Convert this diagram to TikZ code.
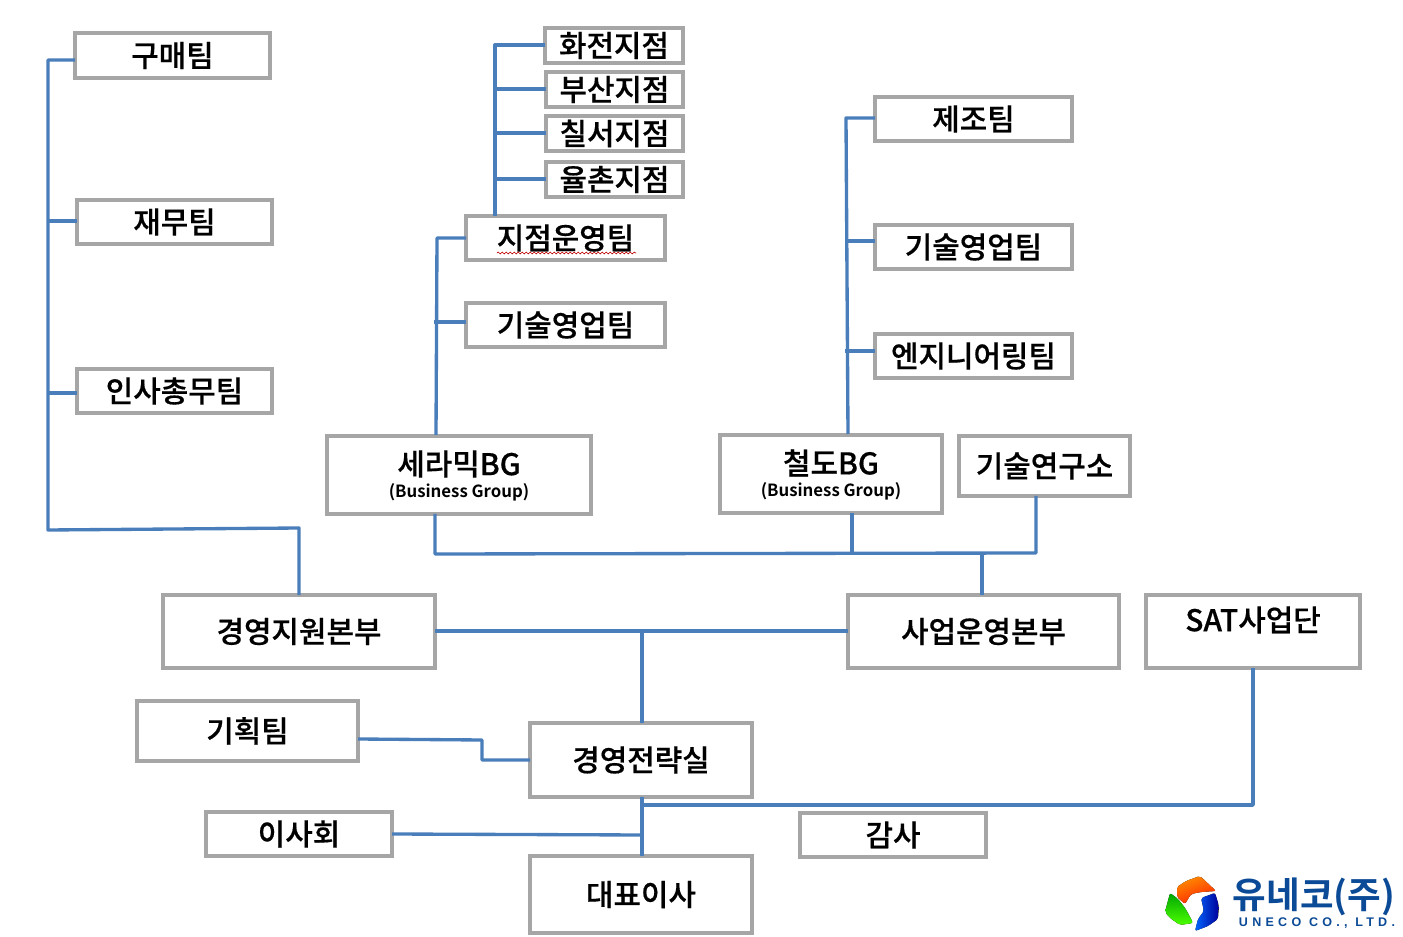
\documentclass[tikz,border=0pt]{standalone}
\usepackage{fontspec}
\setmainfont{Noto Sans CJK KR Medium}[BoldFont={Noto Sans CJK KR Bold},FakeBold=0.5,BoldFeatures={FakeBold=0}]
\newfontfamily\logolatin{Liberation Sans}[LetterSpace=34]
\usetikzlibrary{decorations.pathmorphing,calc}
\definecolor{linkblue}{HTML}{4A7EBB}
\definecolor{boxgray}{HTML}{A6A6A6}
\definecolor{logonavy}{HTML}{0B4A96}
\tikzset{
  boxn/.style={draw=boxgray,line width=2.8pt,fill=white,inner sep=0pt,outer sep=0pt,align=center,font=\fontsize{22.4}{26}\selectfont,text=black},
  linkn/.style={draw=linkblue,line width=2.5pt,line join=round},
}
\newcommand{\bx}[6]{\node[boxn,minimum width={(#4-#2-2)*0.75pt},minimum height={(#5-#3-2)*0.75pt}] (#1) at ({(#2+#4)/2},{(#3+#5)/2}) {#6};}
\begin{document}
\begin{tikzpicture}[x=0.75pt,y=-0.75pt]
\useasboundingbox (0,0) rectangle (1403,937);
\fill[white] (0,0) rectangle (1403,937);
\bx{gumae}{74}{32}{271}{79}{구매팀}
\bx{jaemu}{76}{199}{273}{245}{재무팀}
\bx{insa}{76}{368}{273}{414}{인사총무팀}
\bx{hwajeon}{544}{27}{684}{64}{화전지점}
\bx{busan}{545}{71}{684}{108}{부산지점}
\bx{chilseo}{545}{115}{684}{152}{칠서지점}
\bx{yulchon}{545}{161}{684}{198}{율촌지점}
\bx{jijeom}{465}{215}{666}{261}{지점운영팀}
\bx{gisula}{465}{302}{666}{348}{기술영업팀}
\bx{jejo}{874}{96}{1073}{142}{제조팀}
\bx{gisulb}{874}{224}{1073}{270}{기술영업팀}
\bx{engi}{874}{333}{1073}{379}{엔지니어링팀}
\bx{ceramic}{326}{435}{592}{515}{}
\node[inner sep=0pt,font=\fontsize{22.4}{26}\selectfont] (ceramicname) at (459,464) {세라믹BG};
\node[inner sep=0pt,font=\fontsize{12.6}{15}\selectfont\bfseries] (ceramicsub) at (459,492) {(Business Group)};
\bx{rail}{719}{434}{943}{514}{}
\node[inner sep=0pt,font=\fontsize{22.4}{26}\selectfont] (railname) at (831,463) {철도BG};
\node[inner sep=0pt,font=\fontsize{12.6}{15}\selectfont\bfseries] (railsub) at (831,491) {(Business Group)};
\bx{lab}{958}{435}{1131}{497}{기술연구소}
\bx{mgmt}{162}{594}{436}{669}{경영지원본부}
\bx{biz}{847}{594}{1120}{669}{사업운영본부}
\bx{sat}{1145}{594}{1361}{669}{}
\node[font=\fontsize{22.4}{26}\selectfont,inner sep=0pt] (satlabel) at (1253,620) {SAT사업단};
\bx{plan}{136}{700}{359}{762}{기획팀}
\bx{strategy}{529}{722}{753}{798}{경영전략실}
\bx{board}{205}{811}{393}{857}{이사회}
\bx{audit}{799}{812}{987}{858}{감사}
\bx{ceo}{529}{855}{753}{934}{대표이사}
% trunk coordinates
\coordinate (lt) at (48,60);
\coordinate (lb) at (48,530);
\coordinate (lr) at (299,528);
\draw[linkn] (gumae.west |- lt) -- (lt) -- (lb) -- (lr) -- (mgmt.north -| lr);
\coordinate (j1) at (48,221);\coordinate (j2) at (48,393);
\draw[linkn] (j1) -- (jaemu.west |- j1);
\draw[linkn] (j2) -- (insa.west |- j2);
% branches
\coordinate (bt) at (495,45);\coordinate (b2) at (495,89);\coordinate (b3) at (495,133);\coordinate (b4) at (495,179);
\draw[linkn] (hwajeon.west |- bt) -- (bt) -- (jijeom.north -| bt);
\draw[linkn] (b2) -- (busan.west |- b2);
\draw[linkn] (b3) -- (chilseo.west |- b3);
\draw[linkn] (b4) -- (yulchon.west |- b4);
% ceramic
\coordinate (ct) at (437,238);\coordinate (cb) at (436,435);\coordinate (cm) at (434,322);
\draw[linkn] (jijeom.west |- ct) -- (ct) -- (cb);
\draw[linkn] (cm) -- (gisula.west |- cm);
% rail
\coordinate (rt) at (846,118);\coordinate (rb) at (848,434);\coordinate (r2) at (845,241);\coordinate (r3) at (845,351);
\draw[linkn] (jejo.west |- rt) -- (rt) -- (rb);
\draw[linkn] (r2) -- (gisulb.west |- r2);
\draw[linkn] (r3) -- (engi.west |- r3);
% BG bus
\coordinate (ba) at (435,554);\coordinate (bz) at (1036,553);\coordinate (bm) at (852,553);\coordinate (bo) at (982,553);
\draw[linkn] (ceramic.south -| ba) -- (ba) -- (bz) -- (lab.south -| bz);
\draw[linkn] (rail.south -| bm) -- (bm);
\draw[linkn] (bo) -- (biz.north -| bo);
% centre
\coordinate (cc) at (642,631);
\draw[linkn] (mgmt.east |- cc) -- (biz.west |- cc);
\draw[linkn] (cc) -- (strategy.north -| cc);
\coordinate (p1) at (482,740);\coordinate (p0) at (359,739);\coordinate (p2) at (482,760);
\draw[linkn] (plan.east |- p0) -- (p1) -- (p2) -- (strategy.west |- p2);
\coordinate (sx) at (642,798);
\draw[linkn] (strategy.south -| sx) -- (ceo.north -| sx);
\coordinate (s1) at (642,805);\coordinate (s2) at (1253,805);
\draw[linkn] (s1) -- (s2) -- (sat.south -| s2);
\coordinate (d0) at (393,834);\coordinate (d1) at (642,835);
\draw[linkn] (board.east |- d0) -- (d1);
% spell-check underline
\coordinate (wa) at (497,253);\coordinate (wb) at (636,253);
\draw[red!75!black,line width=0.5pt,decorate,decoration={snake,amplitude=0.7pt,segment length=3pt}] (wa) -- (wb);
% logo
\fill[left color=orange!90!yellow,right color=red!75!orange,shading angle=20,rounded corners=1.5pt] (1200,876)--(1216,891)--(1201,892)--(1191,894)--(1185,904)--(1177,897)--(1177,887)--(1186,881)--cycle;
\fill[top color=green!65!black,bottom color=green!70!yellow,rounded corners=1.5pt] (1165,912)--(1170,893)--(1178,899)--(1185,908)--(1189,915)--(1193,923)--(1180,925)--(1170,918)--cycle;
\fill[left color=blue!60!cyan,right color=blue!60!black,rounded corners=1.5pt] (1195,931)--(1198,919)--(1204,911)--(1201,898)--(1215,893)--(1219,906)--(1218,919)--(1208,926)--cycle;
\node[inner sep=0pt,text=logonavy,font=\fontsize{27.4}{30}\selectfont\bfseries] (logoko) at (1314,897) {유네코(주)};
\node[inner sep=0pt,text=logonavy,font=\logolatin\fontsize{9.4}{10}\selectfont\bfseries] (logoen) at (1317,923) {UNECO CO., LTD.};
\end{tikzpicture}
\end{document}
